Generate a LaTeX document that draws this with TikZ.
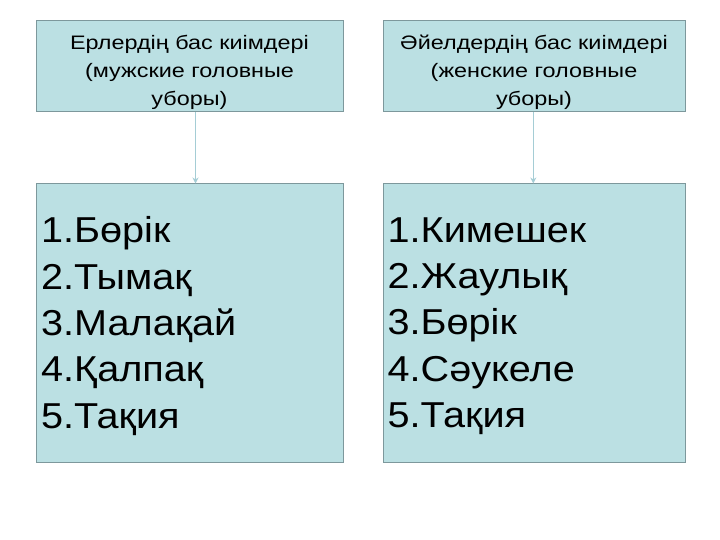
\documentclass[tikz,border=0pt]{standalone}
\usepackage{fontspec}
\setmainfont{Liberation Sans}
\newfontfamily\headfont[FakeStretch=1.2]{Liberation Sans}
\newfontfamily\listfont[FakeStretch=1.1]{Liberation Sans}
\usetikzlibrary{arrows.meta}
\definecolor{boxfill}{RGB}{187,224,227}
\definecolor{boxline}{RGB}{125,152,156}
\definecolor{arrowcol}{RGB}{165,205,213}
\tikzset{
  hatbox/.style={draw=boxline, fill=boxfill, line width=1pt, inner sep=0pt},
  headtext/.style={align=center, inner sep=0pt, font=\headfont\fontsize{19.5}{28}\selectfont},
  listtext/.style={align=left, inner sep=0pt, anchor=west, font=\listfont\fontsize{36}{46.3}\selectfont},
  link/.style={draw=arrowcol, line width=1pt, -{Stealth[length=6pt,width=6pt]}}
}
\begin{document}
\begin{tikzpicture}[x=1pt,y=-1pt]
    \useasboundingbox (0,0) rectangle (720,540);

    % Boxes
    \node[hatbox, minimum width=307pt, minimum height=91pt] (men) at (189.5,66.5) {};
    \node[hatbox, minimum width=302pt, minimum height=91pt] (women) at (534,66.5) {};
    \node[hatbox, minimum width=307pt, minimum height=278pt] (menlist) at (189.5,323) {};
    \node[hatbox, minimum width=302pt, minimum height=278pt] (womenlist) at (534,323) {};

    % Headings
    \node[headtext] (menhead) at ([yshift=-5.5pt]men.center) {Ерлердің бас киімдері\\(мужские головные\\уборы)};
    \node[headtext] (womenhead) at ([yshift=-5.5pt]women.center) {Әйелдердің бас киімдері\\(женские головные\\уборы)};

    % Lists
    \node[listtext] (menitems) at ([xshift=5.5pt,yshift=-3pt]menlist.west) {1.Бөрік\\2.Тымақ\\3.Малақай\\4.Қалпақ\\5.Тақия};
    \node[listtext] (womenitems) at ([xshift=5pt,yshift=-3pt]womenlist.west) {1.Кимешек\\2.Жаулық\\3.Бөрік\\4.Сәукеле\\5.Тақия};

    % Arrows
    \draw[link] ([xshift=6pt]men.south) -- ([xshift=6pt]menlist.north);
    \draw[link] ([xshift=-0.7pt]women.south) -- ([xshift=-0.7pt]womenlist.north);
\end{tikzpicture}
\end{document}
